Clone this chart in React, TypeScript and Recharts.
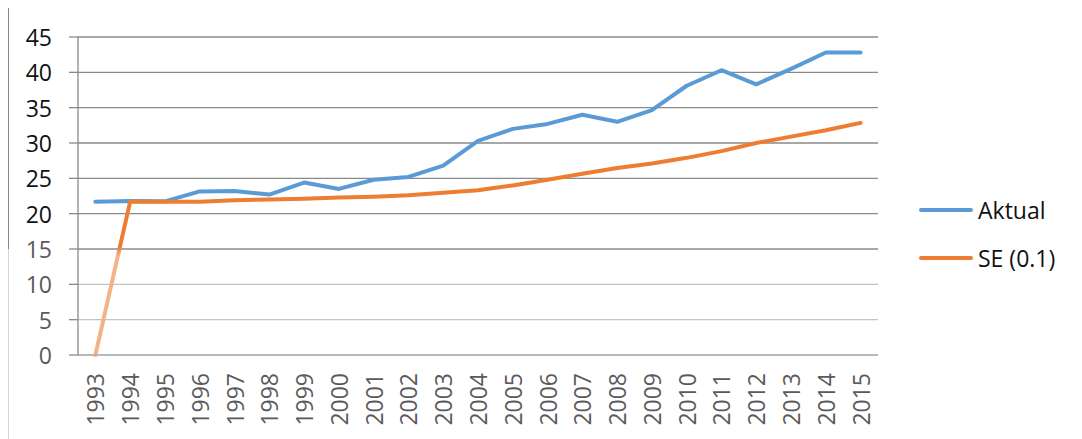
import React from 'react';
import { LineChart, Line, XAxis, YAxis, CartesianGrid } from 'recharts';

const years = ['1993','1994','1995','1996','1997','1998','1999','2000','2001','2002','2003','2004','2005','2006','2007','2008','2009','2010','2011','2012','2013','2014','2015'];
const aktual = [21.7, 21.8, 21.75, 23.15, 23.2, 22.7, 24.4, 23.5, 24.8, 25.2, 26.8, 30.3, 32.0, 32.7, 34.0, 33.0, 34.65, 38.1, 40.3, 38.3, 40.5, 42.8, 42.8];
const se = [0, 21.7, 21.7, 21.7, 21.9, 22.0, 22.1, 22.3, 22.4, 22.6, 22.95, 23.3, 24.0, 24.8, 25.65, 26.45, 27.1, 27.9, 28.85, 30.0, 30.9, 31.8, 32.85];
const yTicks = [0, 5, 10, 15, 20, 25, 30, 35, 40, 45];
const boundaryTicks = Array.from({ length: years.length + 1 }, (_, i) => i);

const data = years.map((y, i) => ({ year: y, aktual: aktual[i], se: se[i] }));

const FONT = '"Open Sans", "Liberation Sans", sans-serif';
const GRID = '#8a8a8a';

const XTick = (props: any) => {
  const { x, y, payload } = props;
  return (
    <text
      x={x}
      y={y + 18}
      transform={`rotate(-90, ${x}, ${y + 18})`}
      textAnchor="end"
      dominantBaseline="central"
      fontFamily={FONT}
      fontSize={23}
      fill="#5a5a5a"
    >
      {payload.value}
    </text>
  );
};

const YTick = (props: any) => {
  const { x, y, payload } = props;
  const faded = payload.value < 20;
  return (
    <text
      x={x}
      y={y}
      textAnchor="end"
      dominantBaseline="central"
      fontFamily={FONT}
      fontSize={23}
      fill={faded ? '#5a5a5a' : '#111111'}
    >
      {payload.value}
    </text>
  );
};

export default function App() {
  return (
    <div style={{ position: 'relative', width: 1074, height: 431 }}>
      <div
        style={{
          position: 'absolute',
          left: 0,
          top: -1,
          width: 1073,
          height: 241,
          borderLeft: `1px solid ${GRID}`,
          borderTop: `1px solid ${GRID}`,
        }}
      />
      <div
        style={{
          position: 'absolute',
          left: 0,
          top: 241,
          width: 0,
          height: 190,
          borderLeft: '1px solid #d6d6d6',
        }}
      />
      <LineChart
        width={1074}
        height={431}
        data={data}
        margin={{ top: 29, right: 204, bottom: 0, left: 0 }}
        style={{ position: 'absolute', left: 0, top: 0 }}
      >
        <defs>
          <linearGradient id="seGrad" gradientUnits="userSpaceOnUse" x1="0" y1="0" x2="0" y2="431">
            <stop offset="0.555" stopColor="#ED7D31" />
            <stop offset="0.575" stopColor="#F4B288" />
            <stop offset="1" stopColor="#F4B288" />
          </linearGradient>
          <linearGradient id="gridGrad" gradientUnits="userSpaceOnUse" x1="0" y1="0" x2="0" y2="431">
            <stop offset="0.565" stopColor={GRID} />
            <stop offset="0.6" stopColor="#c4c4c4" />
            <stop offset="1" stopColor="#c4c4c4" />
          </linearGradient>
        </defs>
        <CartesianGrid vertical={false} stroke="url(#gridGrad)" strokeWidth={1.3} />
        <XAxis
          xAxisId="ticks"
          type="number"
          domain={[0, years.length]}
          ticks={boundaryTicks}
          allowDataOverflow
          height={0}
          axisLine={false}
          tickLine={{ stroke: '#b0b0b0', strokeWidth: 1.3 }}
          tickSize={8}
          tickFormatter={() => ''}
        />
        <XAxis
          dataKey="year"
          scale="band"
          interval={0}
          height={84}
          axisLine={{ stroke: '#b0b0b0', strokeWidth: 1.3 }}
          tickLine={false}
          tickSize={0}
          tickMargin={0}
          tick={<XTick />}
        />
        <YAxis
          domain={[0, 45]}
          ticks={yTicks}
          width={70}
          axisLine={{ stroke: GRID, strokeWidth: 1.3 }}
          tickLine={{ stroke: GRID, strokeWidth: 1.3 }}
          tickSize={9}
          tickMargin={17}
          tick={<YTick />}
        />
        <Line
          type="linear"
          dataKey="aktual"
          stroke="#5B9BD5"
          strokeWidth={4}
          dot={false}
          strokeLinecap="round"
          strokeLinejoin="round"
          isAnimationActive={false}
        />
        <Line
          type="linear"
          dataKey="se"
          stroke="url(#seGrad)"
          strokeWidth={4}
          dot={false}
          strokeLinecap="round"
          strokeLinejoin="round"
          isAnimationActive={false}
        />
      </LineChart>
      <div style={{ position: 'absolute', left: 911, top: 178, fontFamily: FONT, fontSize: 23, color: '#111111' }}>
        {[
          { name: 'Aktual', color: '#5B9BD5' },
          { name: 'SE (0.1)', color: '#ED7D31' },
        ].map((item) => (
          <div key={item.name} style={{ display: 'flex', alignItems: 'center', height: 48 }}>
            <span style={{ display: 'inline-block', width: 54, height: 4, borderRadius: 2, background: item.color, marginRight: 5 }} />
            <span style={{ lineHeight: '30px' }}>{item.name}</span>
          </div>
        ))}
      </div>
    </div>
  );
}
